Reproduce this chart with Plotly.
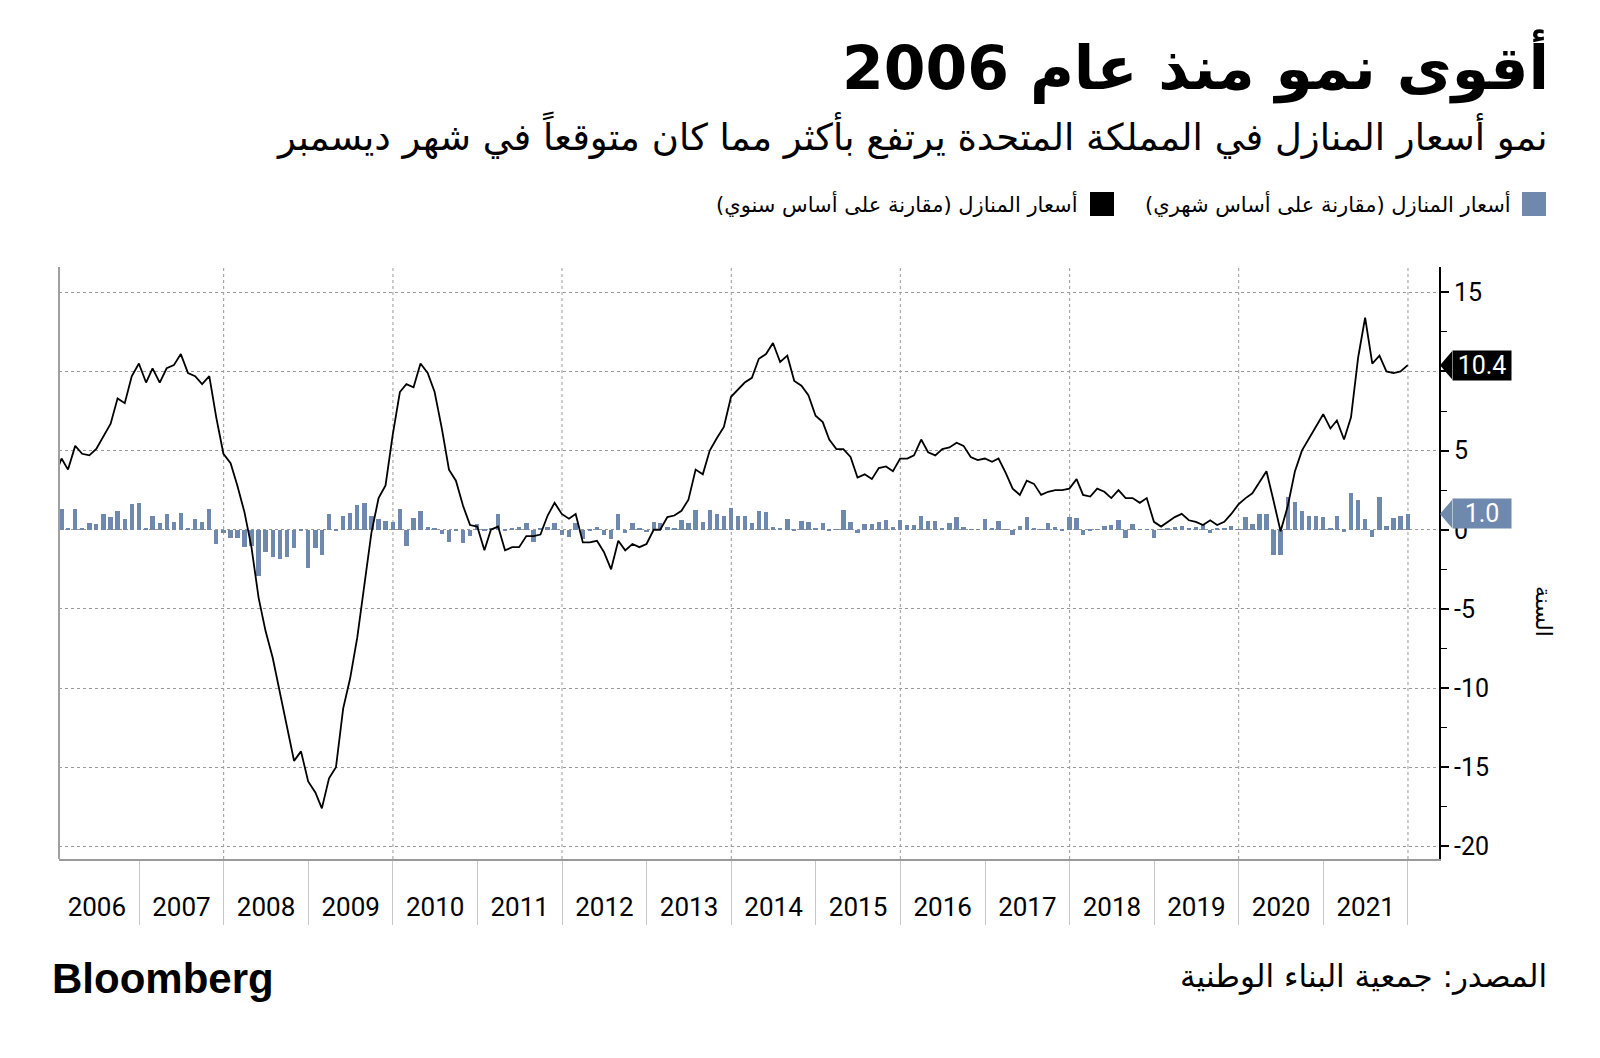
import pandas as pd
import plotly.graph_objects as go

# ---------------- data ----------------
# Annual change (%), Dec 2005 (clipped at left edge) .. Dec 2021
yoy = [
    3.3,
    4.5, 3.8, 5.3, 4.8, 4.7, 5.1, 5.9, 6.7, 8.3, 8.0, 9.7, 10.5,
    9.3, 10.2, 9.3, 10.2, 10.4, 11.1, 9.9, 9.7, 9.2, 9.7, 7.1, 4.8,
    4.2, 2.8, 1.1, -1.1, -4.3, -6.4, -8.1, -10.3, -12.5, -14.6, -14.0, -15.9,
    -16.6, -17.6, -15.7, -15.0, -11.3, -9.4, -6.8, -3.6, -0.2, 2.0, 2.8, 6.0,
    8.7, 9.2, 9.0, 10.5, 9.9, 8.7, 6.4, 3.8, 3.1, 1.5, 0.3, 0.2,
    -1.3, 0.0, 0.2, -1.3, -1.1, -1.1, -0.4, -0.4, -0.3, 0.9, 1.7, 1.0,
    0.7, 1.0, -0.8, -0.8, -0.7, -1.4, -2.5, -0.7, -1.3, -0.9, -1.1, -0.9,
    0.0, 0.0, 0.8, 0.9, 1.2, 1.9, 3.8, 3.5, 5.0, 5.8, 6.5, 8.4,
    8.9, 9.3, 9.6, 10.8, 11.1, 11.8, 10.6, 11.0, 9.4, 9.1, 8.5, 7.2,
    6.8, 5.7, 5.1, 5.1, 4.6, 3.3, 3.5, 3.2, 3.9, 4.0, 3.7, 4.5,
    4.5, 4.7, 5.7, 4.9, 4.7, 5.1, 5.2, 5.5, 5.3, 4.6, 4.4, 4.5,
    4.3, 4.5, 3.6, 2.6, 2.2, 3.1, 2.9, 2.2, 2.4, 2.5, 2.5, 2.6,
    3.2, 2.2, 2.1, 2.6, 2.4, 2.0, 2.5, 2.0, 2.0, 1.7, 2.0, 0.5,
    0.2, 0.5, 0.8, 1.0, 0.6, 0.5, 0.3, 0.6, 0.3, 0.5, 1.0, 1.6,
    2.0, 2.3, 3.0, 3.7, 1.8, -0.1, 1.5, 3.7, 5.0, 5.8, 6.5, 7.3,
    6.4, 6.9, 5.7, 7.1, 10.9, 13.4, 10.5, 11.0, 10.0, 9.9, 10.0, 10.4,
]

# Monthly change (%), Jan 2006 .. Dec 2021
mom = [
    1.3, 0.1, 1.3, 0.1, 0.4, 0.35, 1.0, 0.8, 1.2, 0.65, 1.6, 1.7,
    0.1, 0.9, 0.45, 1.0, 0.5, 1.05, 0.05, 0.7, 0.5, 1.3, -0.9, -0.2,
    -0.5, -0.5, -1.1, -1.0, -2.9, -1.4, -1.75, -1.85, -1.7, -1.15, -0.1, -2.4,
    -1.15, -1.6, 1.0, -0.1, 0.9, 1.05, 1.55, 1.7, 0.85, 0.7, 0.55, 0.5,
    1.3, -1.05, 0.75, 1.2, 0.2, 0.1, -0.25, -0.75, -0.05, -0.85, -0.4, 0.35,
    -0.05, 0.05, 1.0, -0.05, 0.05, 0.2, 0.4, -0.75, 0.1, 0.2, 0.4, -0.35,
    -0.45, 0.4, -0.6, -0.05, 0.2, -0.3, -0.6, 1.0, -0.2, 0.4, 0.1, -0.15,
    0.5, 0.4, 0.2, 0.1, 0.6, 0.4, 1.25, 0.5, 1.25, 1.0, 0.9, 1.35,
    0.9, 0.9, 0.45, 1.2, 1.1, 0.15, 0.05, 0.7, -0.05, 0.55, 0.5, 0.05,
    0.4, -0.03, 0.03, 1.27, 0.5, -0.2, 0.37, 0.37, 0.48, 0.6, 0.2, 0.6,
    0.3, 0.33, 0.9, 0.55, 0.55, 0.05, 0.4, 0.8, 0.15, 0.03, 0.03, 0.7,
    0.05, 0.55, 0.03, -0.3, 0.25, 0.8, 0.05, 0.03, 0.4, 0.2, -0.07, 0.8,
    0.72, -0.3, -0.07, 0.03, 0.24, 0.28, 0.6, -0.5, 0.37, 0.03, 0.03, -0.55,
    0.03, 0.05, 0.2, 0.25, 0.12, 0.2, 0.3, -0.2, 0.12, 0.05, 0.24, 0.03,
    0.8, 0.36, 0.98, 0.98, -1.57, -1.57, 2.05, 1.75, 1.2, 0.9, 0.9, 0.8,
    0.05, 0.9, -0.12, 2.3, 1.9, 0.65, -0.45, 2.1, 0.25, 0.75, 0.9, 1.0,
]

line_dates = pd.date_range("2006-01-01", periods=len(yoy), freq="MS") - pd.Timedelta(days=1)
bar_dates = pd.date_range("2006-02-01", periods=len(mom), freq="MS") - pd.Timedelta(days=1)

last_yoy = yoy[-1]
last_mom = mom[-1]

# the "10" label is hidden under the 10.4 tag in the original
y_tickvals = [-20, -15, -10, -5, 0, 5, 10, 15]
y_ticktext = ["-20", "-15", "-10", "-5", "0", "5", "", "15"]
y_minorvals = [-17.5, -12.5, -7.5, -2.5, 2.5, 7.5, 12.5]

title_text = "أقوى نمو منذ عام 2006"
subtitle_text = "نمو أسعار المنازل في المملكة المتحدة يرتفع بأكثر مما كان متوقعاً في شهر ديسمبر"
legend_mom = "أسعار المنازل (مقارنة على أساس شهري)"
legend_yoy = "أسعار المنازل (مقارنة على أساس سنوي)"
source_text = "المصدر: جمعية البناء الوطنية"
yaxis_title = "السنة"

# ---------------- style ----------------
BAR_COLOR = "#6f88ad"
AR_FONT = "DejaVu Sans"
NUM_FONT = "Roboto, sans-serif"

# page body has an 8px margin: figure is drawn at (8, 8)
OFF = 8
W, H = 1600 - 2 * OFF, 1058 - 2 * OFF
L, R, T, B = 59, 1439, 267, 859  # plot area in screen pixels


def px(x):
    return (x - L) / (R - L)


def py(y):
    return (B - y) / (B - T)


fig = go.Figure()
fig.add_trace(go.Bar(
    x=bar_dates, y=mom, marker_color=BAR_COLOR, marker_line_width=0,
    width=0.62 * 30.4 * 86400000, name=legend_mom, showlegend=False,
))
fig.add_trace(go.Scatter(
    x=line_dates, y=yoy, mode="lines", line=dict(color="#000000", width=1.8),
    name=legend_yoy, showlegend=False,
))

shapes = []
# vertical dotted gridlines every two years
for yr in range(2008, 2023, 2):
    shapes.append(dict(type="line", xref="x", yref="paper", x0=f"{yr}-01-01", x1=f"{yr}-01-01",
                       y0=0, y1=1, line=dict(color="#9a9a9a", width=1, dash="dot"), layer="below"))
# left gray frame line
shapes.append(dict(type="line", xref="paper", yref="paper", x0=0, x1=0, y0=0, y1=1,
                   line=dict(color="#a0a0a0", width=2)))
# legend squares
shapes.append(dict(type="rect", xref="paper", yref="paper", x0=px(1522), x1=px(1546),
                   y0=py(216), y1=py(192), fillcolor=BAR_COLOR, line=dict(width=0)))
shapes.append(dict(type="rect", xref="paper", yref="paper", x0=px(1090), x1=px(1114),
                   y0=py(216), y1=py(192), fillcolor="#000000", line=dict(width=0)))
# value tags (arrow tips)
d = 14 / ((B - T) / (16.6 + 20.8))
for val, col in ((last_yoy, "#000000"), (last_mom, BAR_COLOR)):
    shapes.append(dict(type="path", xref="paper", yref="y",
                       path=f"M {px(1440)},{val} L {px(1452)},{val + d} L {px(1452)},{val - d} Z",
                       fillcolor=col, line=dict(width=0)))

annotations = [
    dict(text=f"<b>{title_text}</b>", x=px(1551), y=py(66), xref="paper", yref="paper",
         xanchor="right", yanchor="middle", showarrow=False,
         font=dict(family=AR_FONT, size=60, color="#000000")),
    dict(text=subtitle_text, x=px(1550), y=py(135), xref="paper", yref="paper",
         xanchor="right", yanchor="middle", showarrow=False,
         font=dict(family=AR_FONT, size=37, color="#000000")),
    dict(text=legend_mom, x=px(1513), y=py(204), xref="paper", yref="paper",
         xanchor="right", yanchor="middle", showarrow=False,
         font=dict(family=AR_FONT, size=21, color="#000000")),
    dict(text=legend_yoy, x=px(1080), y=py(204), xref="paper", yref="paper",
         xanchor="right", yanchor="middle", showarrow=False,
         font=dict(family=AR_FONT, size=21, color="#000000")),
    dict(text=source_text, x=px(1549), y=py(976), xref="paper", yref="paper",
         xanchor="right", yanchor="middle", showarrow=False,
         font=dict(family=AR_FONT, size=31, color="#000000")),
    dict(text="<b>Bloomberg</b>", x=px(50), y=py(978), xref="paper", yref="paper",
         xanchor="left", yanchor="middle", showarrow=False,
         font=dict(family="Liberation Sans, Arial, sans-serif", size=42, color="#000000")),
    dict(text=yaxis_title, x=px(1544), y=py(612), xref="paper", yref="paper",
         xanchor="center", yanchor="middle", showarrow=False, textangle=90,
         font=dict(family=AR_FONT, size=22, color="#000000")),
    dict(text=f"{last_yoy:.1f}", x=px(1452), y=last_yoy, xref="paper", yref="y",
         xanchor="left", yanchor="middle", showarrow=False, bgcolor="#000000",
         width=56, height=27, borderpad=1, align="center",
         font=dict(family=NUM_FONT, size=25, color="#ffffff")),
    dict(text=f"{last_mom:.1f}", x=px(1452), y=last_mom, xref="paper", yref="y",
         xanchor="left", yanchor="middle", showarrow=False, bgcolor=BAR_COLOR,
         width=56, height=27, borderpad=1, align="center",
         font=dict(family=NUM_FONT, size=25, color="#ffffff")),
]

fig.update_layout(
    width=W, height=H,
    margin=dict(l=L - OFF, r=(1600 - OFF) - R, t=T - OFF, b=(1058 - OFF) - B, pad=0),
    paper_bgcolor="#ffffff", plot_bgcolor="#ffffff",
    showlegend=False, bargap=0,
    shapes=shapes, annotations=annotations,
    xaxis=dict(
        type="date", range=["2006-01-20", "2022-05-15"],
        tick0="2006-01-01", dtick="M12", tickformat="%Y", ticklabelmode="period",
        ticks="outside", ticklen=64, tickwidth=1, tickcolor="#c8c8c8",
        ticklabelstandoff=-40,
        tickfont=dict(family=NUM_FONT, size=26, color="#000000"),
        showgrid=False, zeroline=False,
        showline=True, linecolor="#9a9a9a", linewidth=2,
    ),
    yaxis=dict(
        side="right", range=[-20.8, 16.6],
        tickmode="array", tickvals=y_tickvals, ticktext=y_ticktext,
        ticks="outside", ticklen=8, tickwidth=2, tickcolor="#000000",
        tickfont=dict(family=NUM_FONT, size=25, color="#000000"),
        showgrid=True, gridcolor="#9a9a9a", gridwidth=1, griddash="dot",
        zeroline=False, showline=True, linecolor="#000000", linewidth=2,
        minor=dict(tickmode="array", tickvals=y_minorvals, ticks="outside", ticklen=6,
                   tickwidth=1, tickcolor="#000000", showgrid=False),
    ),
)

fig.write_html("out.html")
